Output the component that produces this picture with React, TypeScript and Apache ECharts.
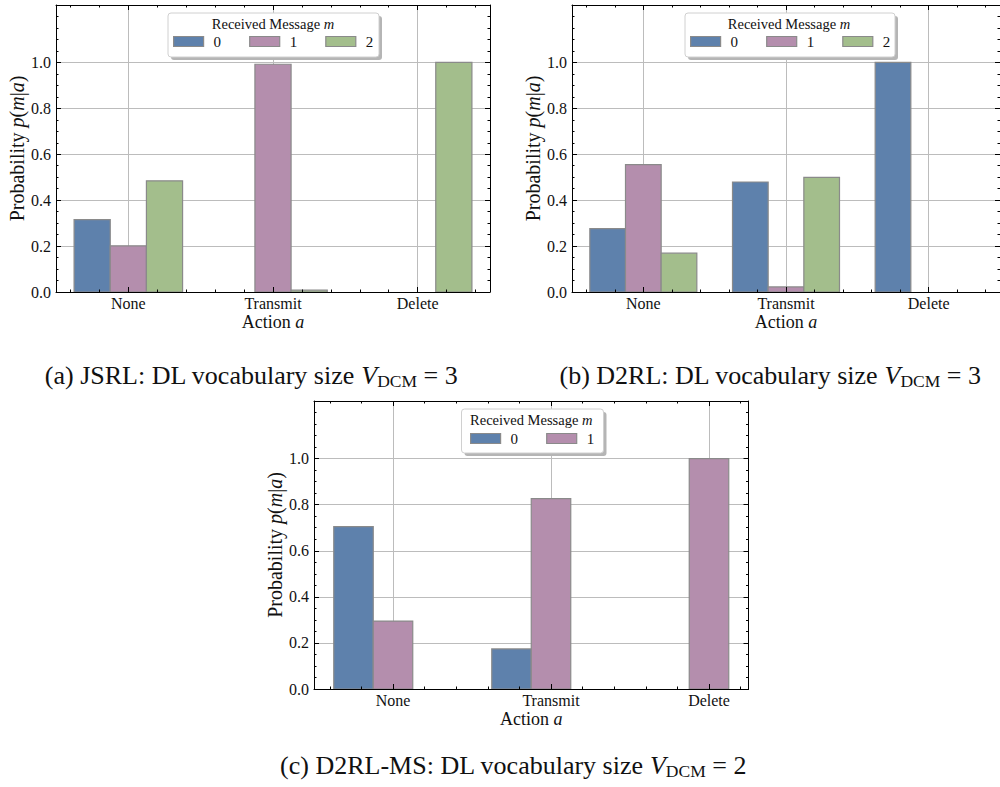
import React, { useEffect, useRef } from 'react';
import * as echarts from 'echarts';

// ---------------- data ----------------
const actions = ['None', 'Transmit', 'Delete'];
const messages3 = ['0', '1', '2'];
const messages2 = ['0', '1'];

// (a) JSRL
const jsrlM0 = [0.315, 0, 0];
const jsrlM1 = [0.201, 0.992, 0];
const jsrlM2 = [0.484, 0.008, 1.0];
// (b) D2RL
const d2rlM0 = [0.276, 0.479, 1.0];
const d2rlM1 = [0.555, 0.022, 0];
const d2rlM2 = [0.169, 0.499, 0];
// (c) D2RL-MS
const msM0 = [0.705, 0.174, 0];
const msM1 = [0.295, 0.826, 1.0];

const yTickValues = [0, 0.2, 0.4, 0.6, 0.8, 1.0];
const xTickValues = [0, 1, 2];

const colors = ['#5E81AC', '#B48EAD', '#A3BE8C'];

const FONT = "'Liberation Serif', 'DejaVu Serif', serif";
const TEXT = '#111111';
const BAR_W = 0.25;
const EDGE = '#8a8a8a';
const GRIDC = '#bcbcbc';

interface Panel {
  grid: { left: number; top: number; width: number; height: number };
  xMax: number;
  names: string[];
  values: number[][];
  legendLeft: number;
  legendTop: number;
  box: { x: number; y: number; w: number; h: number };
  caption: { x: number; y: number; pre: string; num: string };
}

const panels: Panel[] = [
  {
    grid: { left: 56, top: 5, width: 434, height: 287 },
    xMax: 2.5,
    names: messages3,
    values: [jsrlM0, jsrlM1, jsrlM2],
    legendLeft: 173,
    legendTop: 34,
    box: { x: 168, y: 13, w: 211, h: 44 },
    caption: { x: 251, y: 375, pre: '(a) JSRL: DL vocabulary size ', num: '3' },
  },
  {
    grid: { left: 572, top: 5, width: 434, height: 287 },
    xMax: 2.5,
    names: messages3,
    values: [d2rlM0, d2rlM1, d2rlM2],
    legendLeft: 690,
    legendTop: 34,
    box: { x: 685, y: 13, w: 210, h: 44 },
    caption: { x: 770, y: 375, pre: '(b) D2RL: DL vocabulary size ', num: '3' },
  },
  {
    grid: { left: 314, top: 401, width: 434.5, height: 288 },
    xMax: 2.25,
    names: messages2,
    values: [msM0, msM1],
    legendLeft: 470,
    legendTop: 431,
    box: { x: 461.5, y: 409, w: 142, h: 44 },
    caption: { x: 513, y: 765, pre: '(c) D2RL-MS: DL vocabulary size ', num: '2' },
  },
];

function r2(v: number) {
  return Math.round(v * 1000) / 1000;
}

function buildAxes(gi: number, xMax: number) {
  const xMinor: number[] = [];
  for (let k = -2; k * 0.2 <= xMax + 1e-9; k++) {
    const v = r2(k * 0.2);
    if (Math.abs(v - Math.round(v)) > 1e-6) xMinor.push(v);
  }
  const yMinor: number[] = [];
  for (let k = 1; k * 0.05 <= 1.25 + 1e-9; k++) {
    const v = r2(k * 0.05);
    if (!yTickValues.some((t) => Math.abs(t - v) < 1e-6)) yMinor.push(v);
  }
  const xBase = { type: 'value', gridIndex: gi, min: -0.5, max: xMax };
  const yBase = { type: 'value', gridIndex: gi, min: 0, max: 1.25 };
  const noLine = { show: false, onZero: false };
  const frameLine = { show: true, onZero: false, lineStyle: { color: '#000', width: 1 } };
  const off = { show: false };
  const tick = (vals: number[], len: number) => ({
    show: true,
    inside: true,
    length: len,
    customValues: vals,
    lineStyle: { color: '#000', width: 1 },
  });
  const nameStyle = (size: number) => ({
    color: TEXT,
    fontFamily: FONT,
    fontSize: size,
    rich: {
      r: { fontFamily: FONT, fontSize: size, color: TEXT },
      i: { fontFamily: FONT, fontSize: size, color: TEXT, fontStyle: 'italic' },
    },
  });

  const xAxes = [
    {
      ...xBase,
      position: 'bottom',
      axisLine: noLine,
      axisTick: { show: false, customValues: xTickValues },
      axisLabel: {
        customValues: xTickValues,
        formatter: (v: number) => actions[Math.round(v)] ?? '',
        margin: 3,
        color: TEXT,
        fontFamily: FONT,
        fontSize: 16,
      },
      splitLine: { show: true, lineStyle: { color: GRIDC, width: 1 } },
      name: '{r|Action }{i|a}',
      nameLocation: 'middle',
      nameGap: 21,
      nameTextStyle: nameStyle(18),
    },
    { ...xBase, position: 'bottom', z: 6, axisLine: frameLine, axisTick: tick(xTickValues, 5), axisLabel: off, splitLine: off },
    { ...xBase, position: 'bottom', z: 6, axisLine: noLine, axisTick: tick(xMinor, 2.5), axisLabel: off, splitLine: off },
    { ...xBase, position: 'top', z: 6, axisLine: frameLine, axisTick: tick(xTickValues, 5), axisLabel: off, splitLine: off },
    { ...xBase, position: 'top', z: 6, axisLine: noLine, axisTick: tick(xMinor, 2.5), axisLabel: off, splitLine: off },
  ];

  const yAxes = [
    {
      ...yBase,
      position: 'left',
      axisLine: noLine,
      axisTick: { show: false, customValues: yTickValues },
      axisLabel: {
        customValues: yTickValues,
        formatter: (v: number) => v.toFixed(1),
        margin: 5,
        color: TEXT,
        fontFamily: FONT,
        fontSize: 16,
      },
      splitLine: { show: true, lineStyle: { color: GRIDC, width: 1 } },
      name: '{r|Probability }{i|p}{r|(}{i|m}{r||}{i|a}{r|)}',
      nameLocation: 'middle',
      nameGap: 29,
      nameTextStyle: nameStyle(20),
    },
    { ...yBase, position: 'left', z: 6, axisLine: frameLine, axisTick: tick(yTickValues, 5), axisLabel: off, splitLine: off },
    { ...yBase, position: 'left', z: 6, axisLine: noLine, axisTick: tick(yMinor, 2.5), axisLabel: off, splitLine: off },
    { ...yBase, position: 'right', z: 6, axisLine: frameLine, axisTick: tick(yTickValues, 5), axisLabel: off, splitLine: off },
    { ...yBase, position: 'right', z: 6, axisLine: noLine, axisTick: tick(yMinor, 2.5), axisLabel: off, splitLine: off },
  ];
  return { xAxes, yAxes };
}

function buildOption() {
  const grid: any[] = [];
  const xAxis: any[] = [];
  const yAxis: any[] = [];
  const series: any[] = [];
  const legend: any[] = [];
  const graphic: any[] = [];

  panels.forEach((p, gi) => {
    grid.push({ ...p.grid, show: false, containLabel: false });
    const { xAxes, yAxes } = buildAxes(gi, p.xMax);
    const xBaseIdx = xAxis.length;
    const yBaseIdx = yAxis.length;
    xAxis.push(...xAxes);
    yAxis.push(...yAxes);

    p.values.forEach((vals, m) => {
      const offset = (m - 1) * BAR_W;
      series.push({
        type: 'custom',
        name: p.names[m],
        xAxisIndex: xBaseIdx,
        yAxisIndex: yBaseIdx,
        z: 2,
        itemStyle: { color: colors[m], borderColor: EDGE, borderWidth: 1.2 },
        encode: { x: 0, y: 1 },
        data: vals.map((v, i) => [i + offset, v]).filter((d) => d[1] > 0),
        renderItem: (params: any, api: any) => {
          const x = api.value(0);
          const y = api.value(1);
          const tl = api.coord([x - BAR_W / 2, y]);
          const br = api.coord([x + BAR_W / 2, 0]);
          return {
            type: 'rect',
            shape: { x: tl[0], y: tl[1], width: br[0] - tl[0], height: br[1] - tl[1] },
            style: { fill: colors[m], stroke: EDGE, lineWidth: 1.2 },
          };
        },
      });
    });

    legend.push({
      data: p.names,
      left: p.legendLeft,
      top: p.legendTop,
      orient: 'horizontal',
      itemWidth: 30,
      itemHeight: 10,
      itemGap: 28,
      padding: 0,
      icon: 'rect',
      selectedMode: false,
      z: 8,
      itemStyle: { borderColor: EDGE, borderWidth: 1.2 },
      textStyle: { fontFamily: FONT, fontSize: 15, color: TEXT, padding: [0, 0, 0, 5] },
    });

    // legend frame with shadow
    graphic.push({
      type: 'rect',
      z: 7,
      shape: { x: p.box.x + 3, y: p.box.y + 3, width: p.box.w, height: p.box.h, r: 3 },
      style: { fill: '#b5b5b5' },
    });
    graphic.push({
      type: 'rect',
      z: 7,
      shape: { x: p.box.x, y: p.box.y, width: p.box.w, height: p.box.h, r: 3 },
      style: { fill: '#ffffff', stroke: '#d0d0d0', lineWidth: 1 },
    });
    graphic.push({
      type: 'text',
      z: 8,
      x: p.grid.left + p.grid.width / 2,
      y: p.box.y + 10.5,
      style: {
        text: '{r|Received Message }{i|m}',
        align: 'center',
        verticalAlign: 'middle',
        fill: TEXT,
        font: `14.5px ${FONT}`,
        rich: {
          r: { fontFamily: FONT, fontSize: 14.5, fill: TEXT, color: TEXT },
          i: { fontFamily: FONT, fontSize: 14.5, fill: TEXT, color: TEXT, fontStyle: 'italic' },
        },
      },
    });
    // caption
    graphic.push({
      type: 'text',
      z: 8,
      x: p.caption.x,
      y: p.caption.y,
      style: {
        text: `{r|${p.caption.pre}}{i|V}{s|DCM}{r| = ${p.caption.num}}`,
        align: 'center',
        verticalAlign: 'middle',
        fill: '#111',
        font: `26px ${FONT}`,
        rich: {
          r: { fontFamily: FONT, fontSize: 26, lineHeight: 30, color: '#111', fill: '#111' },
          i: { fontFamily: FONT, fontSize: 26, lineHeight: 30, color: '#111', fill: '#111', fontStyle: 'italic' },
          s: { fontFamily: FONT, fontSize: 17.5, lineHeight: 15, verticalAlign: 'bottom', color: '#111', fill: '#111' },
        },
      },
    });
  });

  return {
    animation: false,
    backgroundColor: '#ffffff',
    grid,
    xAxis,
    yAxis,
    series,
    legend,
    graphic,
  };
}

export default function App() {
  const ref = useRef<HTMLDivElement>(null);
  useEffect(() => {
    if (!ref.current) return;
    const chart = echarts.init(ref.current, undefined, { renderer: 'svg' });
    chart.setOption(buildOption() as any);
    return () => chart.dispose();
  }, []);
  return (
    <div
      ref={ref}
      style={{ position: 'absolute', left: 0, top: 0, width: 1000, height: 787, background: '#fff' }}
    />
  );
}
